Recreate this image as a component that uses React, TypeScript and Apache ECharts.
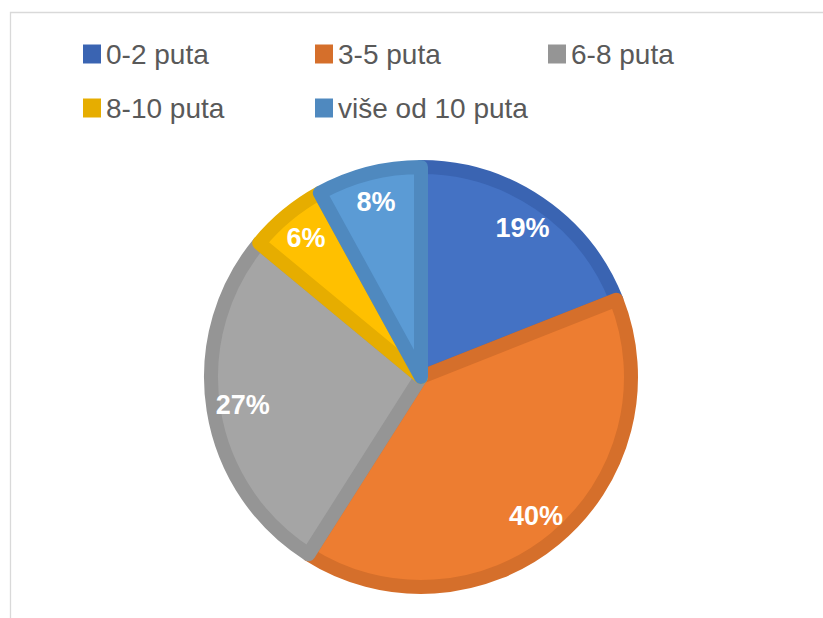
import React, { useEffect, useRef } from "react";
import * as echarts from "echarts";

const categories = ["0-2 puta", "3-5 puta", "6-8 puta", "8-10 puta", "više od 10 puta"];
const values = [19, 40, 27, 6, 8];
const fillColors = ["#4472C4", "#ED7D31", "#A5A5A5", "#FFC000", "#5B9BD5"];
const edgeColors = ["#3A64B2", "#D56F2B", "#959595", "#E6AD00", "#4F89BF"];

const FONT = "'Liberation Sans', Arial, sans-serif";

export default function App() {
  const ref = useRef<HTMLDivElement>(null);
  useEffect(() => {
    if (!ref.current) return;
    const chart = echarts.init(ref.current, undefined, { renderer: "svg" });
    const legendLefts = [83, 315, 548, 83, 315];
    const legendTops = [40, 40, 40, 94, 94];
    const legends = categories.map((c, i) => ({
      orient: "horizontal",
      left: legendLefts[i],
      top: legendTops[i],
      padding: 0,
      itemWidth: 18,
      itemHeight: 19,
      itemGap: 0,
      icon: "rect",
      selectedMode: false,
      textStyle: { color: "#595959", fontSize: 28, fontFamily: FONT },
      data: [{ name: c, itemStyle: { color: edgeColors[i], borderWidth: 0 } }],
    }));
    chart.setOption({
      animation: false,
      backgroundColor: "#ffffff",
      graphic: [
        {
          type: "rect",
          left: 8,
          top: 10,
          shape: { width: 830, height: 620 },
          style: { fill: "none", stroke: "#D9D9D9", lineWidth: 1.3 },
          silent: true,
        },
      ],
      legend: legends,
      series: [
        {
          type: "pie",
          center: [421, 377],
          radius: [0, 210],
          startAngle: 90,
          clockwise: true,
          silent: true,
          label: { show: false },
          labelLine: { show: false },
          data: categories.map((c, i) => ({
            name: c,
            value: values[i],
            itemStyle: { color: fillColors[i], borderColor: edgeColors[i], borderWidth: 14, borderJoin: "round" },
          })),
        },
        {
          type: "pie",
          center: [421, 377],
          radius: [140, 215],
          startAngle: 90,
          clockwise: true,
          silent: true,
          legendHoverLink: false,
          itemStyle: { color: "rgba(0,0,0,0)", borderWidth: 0 },
          label: {
            show: true,
            position: "inside",
            formatter: "{d}%",
            color: "#ffffff",
            fontSize: 27,
            fontWeight: "bold",
            fontFamily: FONT,
          },
          labelLine: { show: false },
          data: categories.map((c, i) => ({ name: c + " ", value: values[i] })),
        },
      ],
    });
    return () => chart.dispose();
  }, []);
  return <div ref={ref} style={{ position: "fixed", left: 0, top: 0, width: 823, height: 618 }} />;
}
